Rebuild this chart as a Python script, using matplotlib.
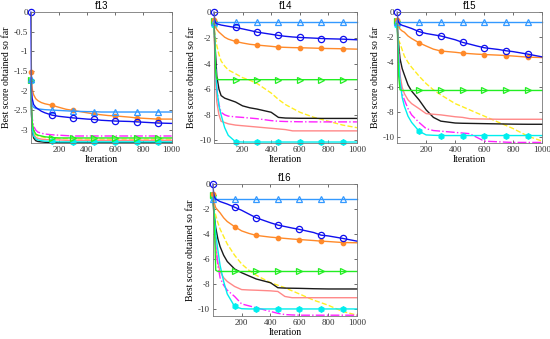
import numpy as np
import matplotlib
matplotlib.use('Agg')
import matplotlib.pyplot as plt

# iteration grid shared by every curve
iters = [1, 5, 10, 20, 35, 50, 75, 100, 151, 200, 250, 301, 400, 451, 500, 550, 601, 700, 751, 800, 901, 1000]
mark_iters = [1, 151, 301, 451, 601, 751, 901]

# f13
f13_lightblue = [-1.70, -2.20, -2.38, -2.42, -2.45, -2.46, -2.47, -2.48, -2.49, -2.50, -2.51, -2.52, -2.53, -2.53, -2.54, -2.54, -2.54, -2.54, -2.54, -2.54, -2.54, -2.54]
f13_blue = [0.0, -2.00, -2.20, -2.35, -2.42, -2.46, -2.52, -2.56, -2.62, -2.65, -2.67, -2.69, -2.72, -2.73, -2.75, -2.76, -2.77, -2.78, -2.79, -2.80, -2.82, -2.83]
f13_orange = [-1.52, -1.75, -1.95, -2.10, -2.20, -2.25, -2.30, -2.33, -2.37, -2.42, -2.47, -2.50, -2.56, -2.59, -2.61, -2.63, -2.64, -2.67, -2.69, -2.70, -2.72, -2.72]
f13_green = [-1.72, -2.40, -2.80, -3.00, -3.10, -3.13, -3.15, -3.17, -3.19, -3.20, -3.20, -3.20, -3.20, -3.20, -3.20, -3.20, -3.20, -3.20, -3.20, -3.20, -3.20, -3.20]
f13_yellow = [-1.78, -2.50, -2.85, -3.05, -3.12, -3.15, -3.17, -3.19, -3.20, -3.21, -3.22, -3.22, -3.23, -3.23, -3.23, -3.23, -3.23, -3.23, -3.23, -3.23, -3.23, -3.23]
f13_black = [-1.80, -2.60, -3.00, -3.20, -3.27, -3.29, -3.30, -3.31, -3.32, -3.32, -3.32, -3.32, -3.32, -3.32, -3.32, -3.32, -3.32, -3.32, -3.32, -3.32, -3.32, -3.32]
f13_magenta = [-1.80, -2.40, -2.70, -2.90, -3.00, -3.05, -3.08, -3.10, -3.12, -3.13, -3.14, -3.15, -3.15, -3.15, -3.15, -3.15, -3.15, -3.15, -3.15, -3.15, -3.15, -3.15]
f13_pink = [-1.75, -2.50, -2.90, -3.10, -3.18, -3.21, -3.23, -3.24, -3.25, -3.25, -3.26, -3.26, -3.26, -3.26, -3.26, -3.26, -3.26, -3.26, -3.26, -3.26, -3.26, -3.26]
f13_cyan = [-1.75, -2.60, -2.95, -3.15, -3.22, -3.25, -3.27, -3.28, -3.29, -3.30, -3.30, -3.30, -3.30, -3.30, -3.30, -3.30, -3.30, -3.30, -3.30, -3.30, -3.30, -3.30]

# f14
f14_lightblue = [-0.78] * 22
f14_blue = [0.0, -0.6, -0.8, -0.9, -0.95, -1.0, -1.05, -1.1, -1.19, -1.3, -1.42, -1.55, -1.72, -1.81, -1.88, -1.93, -1.97, -2.02, -2.05, -2.07, -2.10, -2.15]
f14_orange = [-0.6, -0.9, -1.1, -1.35, -1.55, -1.7, -1.95, -2.1, -2.28, -2.4, -2.5, -2.56, -2.66, -2.72, -2.74, -2.76, -2.77, -2.8, -2.82, -2.83, -2.85, -2.88]
f14_green = [-0.7, -2.5, -4.5, -5.2, -5.26, -5.26, -5.26, -5.26, -5.26, -5.26, -5.26, -5.26, -5.26, -5.26, -5.26, -5.26, -5.26, -5.26, -5.26, -5.26, -5.26, -5.26]
f14_yellow = [-0.8, -1.5, -2.0, -2.6, -3.3, -3.8, -4.2, -4.5, -4.8, -5.1, -5.3, -5.55, -6.3, -6.8, -7.2, -7.5, -7.8, -8.2, -8.35, -8.5, -8.8, -9.0]
f14_black = [-1.0, -2.2, -3.0, -5.0, -6.0, -6.5, -6.7, -6.8, -7.0, -7.3, -7.45, -7.55, -7.8, -8.2, -8.25, -8.26, -8.27, -8.27, -8.28, -8.28, -8.28, -8.28]
f14_magenta = [-1.0, -2.5, -4.0, -6.0, -7.2, -7.8, -8.0, -8.1, -8.16, -8.2, -8.25, -8.3, -8.45, -8.5, -8.52, -8.53, -8.54, -8.55, -8.55, -8.55, -8.55, -8.55]
f14_pink = [-1.0, -3.0, -5.0, -7.0, -8.0, -8.5, -8.6, -8.7, -8.8, -8.85, -8.9, -8.95, -9.05, -9.1, -9.15, -9.25, -9.25, -9.25, -9.25, -9.25, -9.25, -9.25]
f14_cyan = [-1.0, -2.0, -4.0, -6.0, -7.3, -8.0, -9.0, -9.6, -10.1, -10.12, -10.12, -10.12, -10.12, -10.12, -10.12, -10.12, -10.12, -10.12, -10.12, -10.12, -10.12, -10.12]

# f15
f15_lightblue = [-0.8] * 22
f15_blue = [0.0, -0.6, -0.8, -0.95, -1.05, -1.1, -1.2, -1.3, -1.55, -1.7, -1.8, -1.9, -2.2, -2.41, -2.55, -2.7, -2.84, -2.98, -3.08, -3.15, -3.35, -3.57]
f15_orange = [-0.6, -0.9, -1.1, -1.35, -1.5, -1.6, -1.9, -2.1, -2.44, -2.7, -2.95, -3.1, -3.2, -3.27, -3.31, -3.35, -3.38, -3.43, -3.46, -3.5, -3.59, -3.62]
f15_green = [-0.7, -3.0, -5.0, -6.2, -6.25, -6.25, -6.25, -6.25, -6.25, -6.25, -6.25, -6.25, -6.25, -6.25, -6.25, -6.25, -6.25, -6.25, -6.25, -6.25, -6.25, -6.25]
f15_yellow = [-1.0, -1.8, -2.2, -2.5, -3.0, -3.5, -4.0, -4.4, -5.1, -5.7, -6.2, -6.6, -7.3, -7.55, -7.8, -8.05, -8.3, -8.8, -9.05, -9.3, -9.9, -10.3]
f15_black = [-1.0, -1.8, -2.5, -3.7, -4.5, -5.0, -5.8, -6.3, -7.0, -7.8, -8.4, -8.7, -8.85, -8.87, -8.88, -8.89, -8.9, -8.92, -8.93, -8.94, -8.95, -8.95]
f15_magenta = [-1.0, -2.0, -3.0, -5.5, -6.5, -7.0, -7.7, -8.2, -8.8, -9.3, -9.45, -9.5, -9.6, -9.65, -9.7, -10.0, -10.3, -10.35, -10.38, -10.4, -10.4, -10.4]
f15_pink = [-1.0, -2.0, -3.0, -5.0, -6.0, -6.5, -7.0, -7.3, -7.7, -8.1, -8.15, -8.2, -8.35, -8.4, -8.5, -8.52, -8.53, -8.55, -8.55, -8.55, -8.55, -8.55]
f15_cyan = [-1.0, -2.2, -3.5, -5.5, -6.8, -7.5, -8.3, -8.8, -9.5, -9.8, -9.83, -9.85, -9.85, -9.85, -9.85, -9.85, -9.85, -9.85, -9.85, -9.85, -9.85, -9.85]

# f16
f16_lightblue = [-1.18] * 22
f16_blue = [0.0, -0.7, -1.0, -1.2, -1.3, -1.4, -1.5, -1.6, -1.85, -2.1, -2.4, -2.7, -3.1, -3.28, -3.4, -3.52, -3.63, -3.88, -4.09, -4.15, -4.35, -4.57]
f16_orange = [-0.8, -1.2, -1.5, -1.9, -2.1, -2.3, -2.7, -3.0, -3.41, -3.75, -3.95, -4.11, -4.25, -4.3, -4.35, -4.4, -4.44, -4.52, -4.57, -4.6, -4.68, -4.7]
f16_green = [-0.9, -2.0, -3.0, -6.9, -7.0, -7.0, -7.0, -7.0, -7.0, -7.0, -7.0, -7.0, -7.0, -7.0, -7.0, -7.0, -7.0, -7.0, -7.0, -7.0, -7.0, -7.0]
f16_yellow = [-1.2, -1.8, -2.1, -2.5, -3.1, -3.6, -4.2, -4.8, -5.7, -6.4, -6.9, -7.3, -7.9, -8.1, -8.3, -8.55, -8.8, -9.3, -9.5, -9.7, -10.2, -10.5]
f16_black = [-1.0, -1.8, -2.5, -3.5, -4.4, -5.0, -5.7, -6.2, -6.8, -7.1, -7.35, -7.6, -7.9, -8.3, -8.33, -8.34, -8.35, -8.38, -8.39, -8.4, -8.4, -8.4]
f16_magenta = [-1.0, -2.0, -3.0, -5.0, -6.5, -7.5, -8.1, -8.5, -9.0, -9.6, -9.75, -9.9, -10.2, -10.35, -10.45, -10.48, -10.5, -10.5, -10.5, -10.5, -10.5, -10.5]
f16_pink = [-1.0, -2.0, -3.0, -5.0, -6.3, -7.0, -7.5, -7.8, -8.2, -8.45, -8.48, -8.5, -8.55, -8.6, -9.0, -9.1, -9.1, -9.1, -9.1, -9.1, -9.1, -9.1]
f16_cyan = [-1.0, -1.8, -2.5, -4.0, -5.3, -6.5, -7.8, -8.8, -9.8, -9.98, -10.0, -10.0, -10.0, -10.0, -10.0, -10.0, -10.0, -10.0, -10.0, -10.0, -10.0, -10.0]

titles = ['f13', 'f14', 'f15', 'f16']
ylims = [-3.33, -10.2, -10.45, -10.56]
yticks = [np.arange(-3, 0.01, 0.5), np.arange(-10, 0.01, 2), np.arange(-10, 0.01, 2), np.arange(-10, 0.01, 2)]
panels = [
    [f13_lightblue, f13_blue, f13_orange, f13_green, f13_yellow, f13_black, f13_magenta, f13_pink, f13_cyan],
    [f14_lightblue, f14_blue, f14_orange, f14_green, f14_yellow, f14_black, f14_magenta, f14_pink, f14_cyan],
    [f15_lightblue, f15_blue, f15_orange, f15_green, f15_yellow, f15_black, f15_magenta, f15_pink, f15_cyan],
    [f16_lightblue, f16_blue, f16_orange, f16_green, f16_yellow, f16_black, f16_magenta, f16_pink, f16_cyan],
]

# drawing order / style for each curve (back to front)
styles = [
    dict(color='#3399ff', ls='-', marker='^', mfc='none', ms=4.5),
    dict(color='#1010ee', ls='-', marker='o', mfc='none', ms=4.5),
    dict(color='#ff8a2a', ls='-', marker='o', mfc='#ff8a2a', ms=3.2),
    dict(color='#22ee22', ls='-', marker='>', mfc='none', ms=4.5),
    dict(color='#ffee22', ls='--', marker=None),
    dict(color='#1a1a1a', ls='-', marker=None),
    dict(color='#ff22ff', ls='-.', marker=None),
    dict(color='#ff8888', ls='-', marker=None),
    dict(color='#00eeee', ls='-', marker='h', mfc='#00eeee', ms=4),
]
order = [4, 5, 7, 6, 8, 3, 2, 0, 1]

positions = [
    [0.056, 0.578, 0.256, 0.386],
    [0.389, 0.578, 0.260, 0.386],
    [0.722, 0.578, 0.264, 0.386],
    [0.387, 0.068, 0.262, 0.389],
]

serif = ['Liberation Serif', 'DejaVu Serif']
fig = plt.figure(figsize=(5.5, 3.39), dpi=100)
mark_idx = [i for i, v in enumerate(iters) if v in mark_iters]

for p in range(4):
    ax = fig.add_axes(positions[p])
    for k in order:
        st = styles[k]
        kw = dict(color=st['color'], ls=st['ls'], lw=1.0, clip_on=False)
        if st['marker']:
            kw.update(marker=st['marker'], mfc=st['mfc'], mec=st['color'],
                      ms=st['ms'], mew=0.9, markevery=mark_idx)
        ax.plot(iters, panels[p][k], **kw)
    ax.set_xlim(0, 1000)
    ax.set_ylim(ylims[p], 0)
    ax.set_xticks([200, 400, 600, 800, 1000])
    ax.set_yticks(yticks[p])
    ax.set_yticklabels(['%g' % t for t in yticks[p]])
    ax.tick_params(direction='in', length=2, width=0.5, labelsize=6.5,
                   top=True, right=True, pad=2, colors='#333333')
    for lab in ax.get_xticklabels() + ax.get_yticklabels():
        lab.set_family(serif)
    for sp in ax.spines.values():
        sp.set_color('#777777')
        sp.set_linewidth(0.6)
    ax.set_title(titles[p], fontsize=7, family='Liberation Sans', pad=2)
    ax.set_xlabel('Iteration', fontsize=7, family=serif, labelpad=1)
    ax.set_ylabel('Best score obtained so far', fontsize=7, family=serif, labelpad=2)

fig.savefig('out.png', dpi=100)
